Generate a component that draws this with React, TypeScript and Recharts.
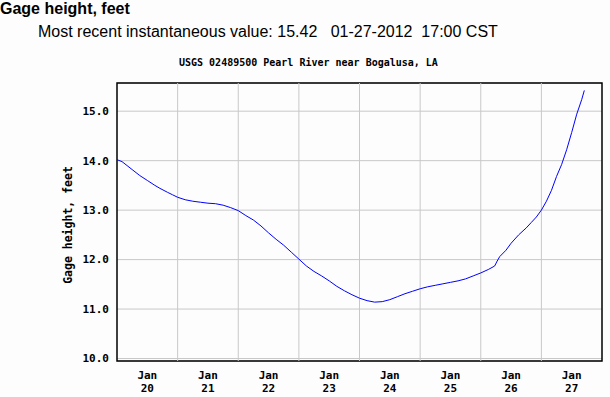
import { LineChart, Line, XAxis, YAxis, CartesianGrid, ReferenceLine, ReferenceArea } from "recharts"

// hours since Jan 20 00:00 CST
const hours = [
  0, 2, 4, 6, 9, 12, 15, 17, 20, 22, 24, 27, 30, 33, 36, 39, 42, 45, 48, 51,
  54, 57, 60, 63, 66, 69, 72, 75, 78, 81, 84, 87, 90, 93, 96, 99, 102, 105, 108,
  111, 114, 117, 120, 123, 126, 129, 132, 135, 138, 141, 144, 147, 149.5, 150.5,
  151.5, 154, 156, 159, 162, 164, 166, 168, 170, 172, 174, 176, 178, 180, 182,
  184, 185,
]
const gageHeight = [
  14.02, 13.98, 13.9, 13.82, 13.7, 13.6, 13.5, 13.44, 13.36, 13.31, 13.26, 13.21,
  13.18, 13.16, 13.14, 13.13, 13.1, 13.05, 12.99, 12.89, 12.8, 12.68, 12.54,
  12.41, 12.29, 12.15, 12.01, 11.87, 11.76, 11.67, 11.57, 11.46, 11.37, 11.29,
  11.22, 11.17, 11.14, 11.15, 11.19, 11.25, 11.31, 11.36, 11.41, 11.45, 11.48,
  11.51, 11.54, 11.57, 11.61, 11.67, 11.73, 11.8, 11.87, 11.97, 12.06, 12.19,
  12.33, 12.5, 12.64, 12.75, 12.86, 13.0, 13.18, 13.4, 13.68, 13.92, 14.22,
  14.57, 14.94, 15.24, 15.42,
]
const dayBounds = [24, 48, 72, 96, 120, 144, 168]
const dayTicks = [12, 36, 60, 84, 108, 132, 156, 180]
const dayLabels = ["20", "21", "22", "23", "24", "25", "26", "27"]
const heightTicks = [10, 11, 12, 13, 14, 15]

const data = hours.map((h, i) => ({ h, v: gageHeight[i] }))

const mono = "'DejaVu Sans Mono', monospace"

function DayTick({ x, y, payload }: { x?: number; y?: number; payload?: { value: number } }) {
  const idx = dayTicks.indexOf(payload?.value ?? -1)
  return (
    <text x={x} y={y} textAnchor="middle" fontFamily={mono} fontWeight="bold" fontSize={11} fill="#000">
      <tspan x={x} dy={10}>Jan</tspan>
      <tspan x={x} dy={12.7}>{dayLabels[idx]}</tspan>
    </text>
  )
}

function AxisTitle({ viewBox }: { viewBox?: { x: number; y: number; width: number; height: number } }) {
  const cy = viewBox ? viewBox.y + viewBox.height / 2 : 222
  return (
    <text
      x={68}
      y={cy + 3}
      transform={`rotate(-90 68 ${cy + 3})`}
      textAnchor="middle"
      dominantBaseline="central"
      fontFamily={mono}
      fontWeight="bold"
      fontSize={11.5}
      fill="#000"
    >
      Gage height, feet
    </text>
  )
}

export default function App() {
  return (
    <div style={{ position: "fixed", left: 0, top: 0, width: 610, height: 397, background: "#fdfdfd", overflow: "hidden" }}>
      <div style={{ position: "absolute", left: 0, top: 0, font: "bold 16px/17px 'Liberation Sans', Arial, sans-serif", color: "#000" }}>
        Gage height, feet
      </div>
      <div style={{ position: "absolute", left: 38, top: 24, font: "16px/16px 'Liberation Sans', Arial, sans-serif", color: "#000", whiteSpace: "pre" }}>
        {"Most recent instantaneous value: 15.42   01-27-2012  17:00 CST"}
      </div>
      <div style={{ position: "absolute", left: 179, top: 58, font: `bold 10px/10px ${mono}`, color: "#000", whiteSpace: "pre" }}>
        USGS 02489500 Pearl River near Bogalusa, LA
      </div>
      <div style={{ position: "absolute", left: 0, top: 0 }}>
        <LineChart width={610} height={397} data={data} margin={{ top: 83, right: 8, bottom: 6, left: 57 }}>
          <CartesianGrid vertical={false} stroke="#c8c8c8" strokeWidth={1} />
          {dayBounds.map(d => (
            <ReferenceLine key={d} x={d} stroke="#c8c8c8" strokeWidth={1} />
          ))}
          <XAxis
            dataKey="h"
            type="number"
            domain={[0, 192]}
            ticks={dayTicks}
            tick={<DayTick />}
            tickLine={false}
            axisLine={false}
            height={30}
            interval={0}
          />
          <YAxis
            type="number"
            domain={[9.95, 15.57]}
            ticks={heightTicks}
            tickFormatter={(v: number) => v.toFixed(1)}
            tick={{ fill: "#000", fontSize: 11, fontFamily: mono, fontWeight: "bold" }}
            tickLine={false}
            axisLine={false}
            width={60}
            interval={0}
            allowDataOverflow
            label={<AxisTitle />}
          />
          <ReferenceArea x1={0} x2={192} y1={9.95} y2={15.57} fill="none" stroke="#000" strokeWidth={1.5} fillOpacity={0} />
          <Line
            type="linear"
            dataKey="v"
            stroke="#0000ff"
            strokeWidth={1}
            dot={false}
            activeDot={false}
            isAnimationActive={false}
          />
        </LineChart>
      </div>
    </div>
  )
}
